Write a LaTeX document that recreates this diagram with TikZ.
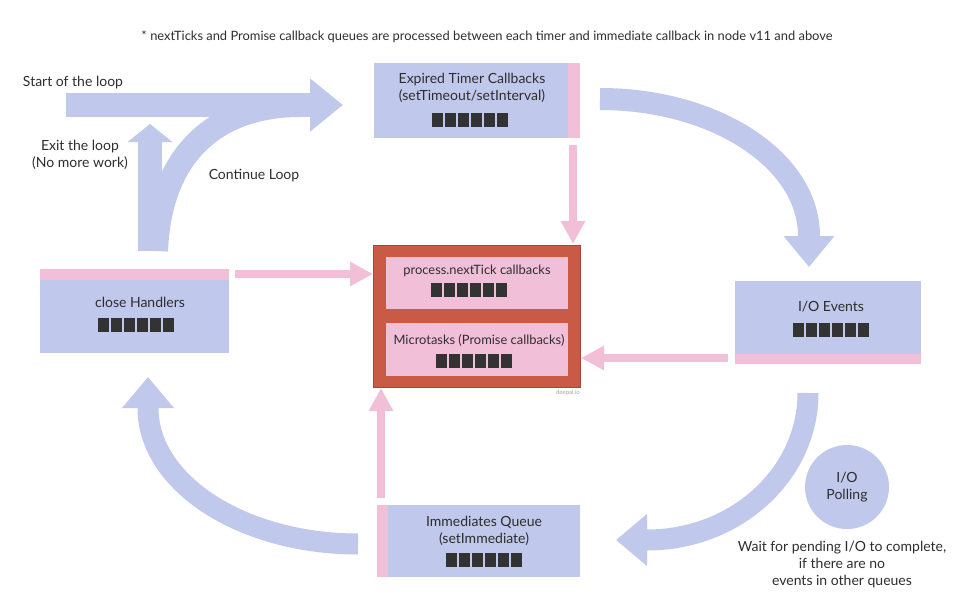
\documentclass[tikz,border=0pt]{standalone}
\usepackage{fontspec}
\setmainfont{Lato}
\usetikzlibrary{arrows.meta}
\definecolor{lav}{HTML}{C0C8EB}
\definecolor{pinkq}{HTML}{F2BFD9}
\definecolor{redq}{HTML}{C95A45}
\definecolor{blk}{HTML}{333333}
\definecolor{txt}{HTML}{2E2E2E}
\newcommand\qblk{\textcolor{blk}{\rule{11.6pt}{14.5pt}\hspace{1.4pt}\rule{11.6pt}{14.5pt}\hspace{1.4pt}\rule{11.6pt}{14.5pt}\hspace{1.4pt}\rule{11.6pt}{14.5pt}\hspace{1.4pt}\rule{11.6pt}{14.5pt}\hspace{1.4pt}\rule{11.6pt}{14.5pt}}}
\tikzset{
  lbl/.style={text=txt,font=\fontsize{14}{17}\selectfont,align=center,inner sep=0pt},
  smalllbl/.style={lbl,font=\fontsize{12.9}{16}\selectfont},
  blocks/.style={inner sep=0pt},
  bigarrow/.style={draw=lav,line width=#1},
  pinkarrow/.style={draw=pinkq,line width=8.5pt,-{Triangle[length=23pt,width=23pt]}},
}
\begin{document}
\begin{tikzpicture}[x=1pt,y=-1pt]
\useasboundingbox (0,0) rectangle (962,610);
\fill[white] (0,0) rectangle (962,610);

% note
\node[text=txt,font=\fontsize{12.9}{15}\selectfont,inner sep=0pt] (note) at (487,37)
  {* nextTicks and Promise callback queues are processed between each timer and immediate callback in node v11 and above};

% ---------- boxes ----------
% Timer
\fill[lav] (374,63) rectangle (568,138);
\fill[pinkq] (568,63) rectangle (580,138);
\node[inner sep=0pt,minimum width=206pt,minimum height=75pt] (timer) at (477,100.5) {};
\node[lbl] (timerT) at (472,88) {Expired Timer Callbacks\\(setTimeout/setInterval)};
\node[blocks] (timerB) at (470,120) {\qblk};

% microtask container
\node[fill=redq,draw=redq!80!black,line width=0.4pt,minimum width=207pt,minimum height=142pt,inner sep=0pt] (micro) at (476.5,316) {};
\fill[pinkq] (386,257) rectangle (568,309);
\fill[pinkq] (386,323) rectangle (568,376);
\node[smalllbl] (tickT) at (477,271) {process.nextTick callbacks};
\node[blocks] (tickB) at (469,290) {\qblk};
\node[smalllbl] (promT) at (479,340) {Microtasks (Promise callbacks)};
\node[blocks] (promB) at (474,361) {\qblk};
\node[text=gray!70,font=\fontsize{6}{7}\selectfont,inner sep=0pt,anchor=east] (deepal) at (580,393) {deepal.io};

% I/O Events
\fill[lav] (735,281) rectangle (921,354);
\fill[pinkq] (735,354) rectangle (921,364);
\node[inner sep=0pt,minimum width=186pt,minimum height=83pt] (io) at (828,322.5) {};
\node[lbl] (ioT) at (831,307) {I/O Events};
\node[blocks] (ioB) at (831,330) {\qblk};

% close Handlers
\fill[pinkq] (40,269) rectangle (229,280);
\fill[lav] (40,280) rectangle (229,353);
\node[inner sep=0pt,minimum width=189pt,minimum height=84pt] (close) at (134.5,311) {};
\node[lbl] (closeT) at (140,302) {close Handlers};
\node[blocks] (closeB) at (136,325) {\qblk};

% Immediates
\fill[pinkq] (377,505) rectangle (388,577);
\fill[lav] (388,505) rectangle (580,577);
\node[inner sep=0pt,minimum width=203pt,minimum height=72pt] (imm) at (478.5,541) {};
\node[lbl] (immT) at (484,531) {Immediates Queue\\(setImmediate)};
\node[blocks] (immB) at (484,560) {\qblk};

% I/O Polling
\node[circle,fill=lav,minimum size=84pt,inner sep=0pt,lbl] (poll) at (847,487) {I/O\\Polling};
\node[lbl] (wait) at (842,565) {Wait for pending I/O to complete,\\if there are no\\events in other queues};

% ---------- labels ----------
\node[lbl] (start) at (73,83) {Start of the loop};
\node[lbl] (exit) at (80,155) {Exit the loop\\(No more work)};
\node[lbl] (cont) at (254,176) {Continue Loop};

% ---------- coordinates ----------
\coordinate (s0) at (66,105);
\coordinate (s1) at (343,105);
\coordinate (e0) at (150,251);
\coordinate (e1) at (150,124);
\coordinate (c0) at (156,251);
\coordinate (c1) at (300,105);
\coordinate (tr0) at (600,99);
\coordinate (tr1) at (809,236);
\coordinate (tr2) at (809,267);
\coordinate (br0) at (808,393);
\coordinate (br1) at (647,540);
\coordinate (br2) at (616,540);
\coordinate (bl0) at (358,544);
\coordinate (bl1) at (148,408);
\coordinate (bl2) at (148,377);
\coordinate (p1a) at (573,145);
\coordinate (p1b) at (573,244);
\coordinate (p2a) at (235,274);
\coordinate (p2b) at (373,274);
\coordinate (p3a) at (728,358);
\coordinate (p3b) at (581,358);
\coordinate (p4a) at (381,498);
\coordinate (p4b) at (381,388);

% ---------- big blue arrows ----------
\draw[bigarrow=24pt] (c0) .. controls (160,150) and (220,105) .. (c1);
\draw[bigarrow=24pt,-{Triangle[length=18pt,width=44pt]}] (e0) -- (e1);
\draw[bigarrow=24pt,-{Triangle[length=33pt,width=51pt]}] (s0) -- (s1);
\draw[bigarrow=22pt,-{Triangle[length=31pt,width=49pt]}] (tr0) .. controls (715,99) and (809,160) .. (tr1) -- (tr2);
\draw[bigarrow=21pt,-{Triangle[length=31pt,width=50pt]}] (br0) .. controls (808,474) and (736,540) .. (br1) -- (br2);
\draw[bigarrow=21pt,-{Triangle[length=31pt,width=50pt]}] (bl0) .. controls (242,544) and (148,483) .. (bl1) -- (bl2);

% ---------- pink arrows ----------
\draw[pinkarrow] (p1a) -- (p1b);
\draw[pinkarrow] (p2a) -- (p2b);
\draw[pinkarrow] (p3a) -- (p3b);
\draw[pinkarrow] (p4a) -- (p4b);
\end{tikzpicture}
\end{document}
